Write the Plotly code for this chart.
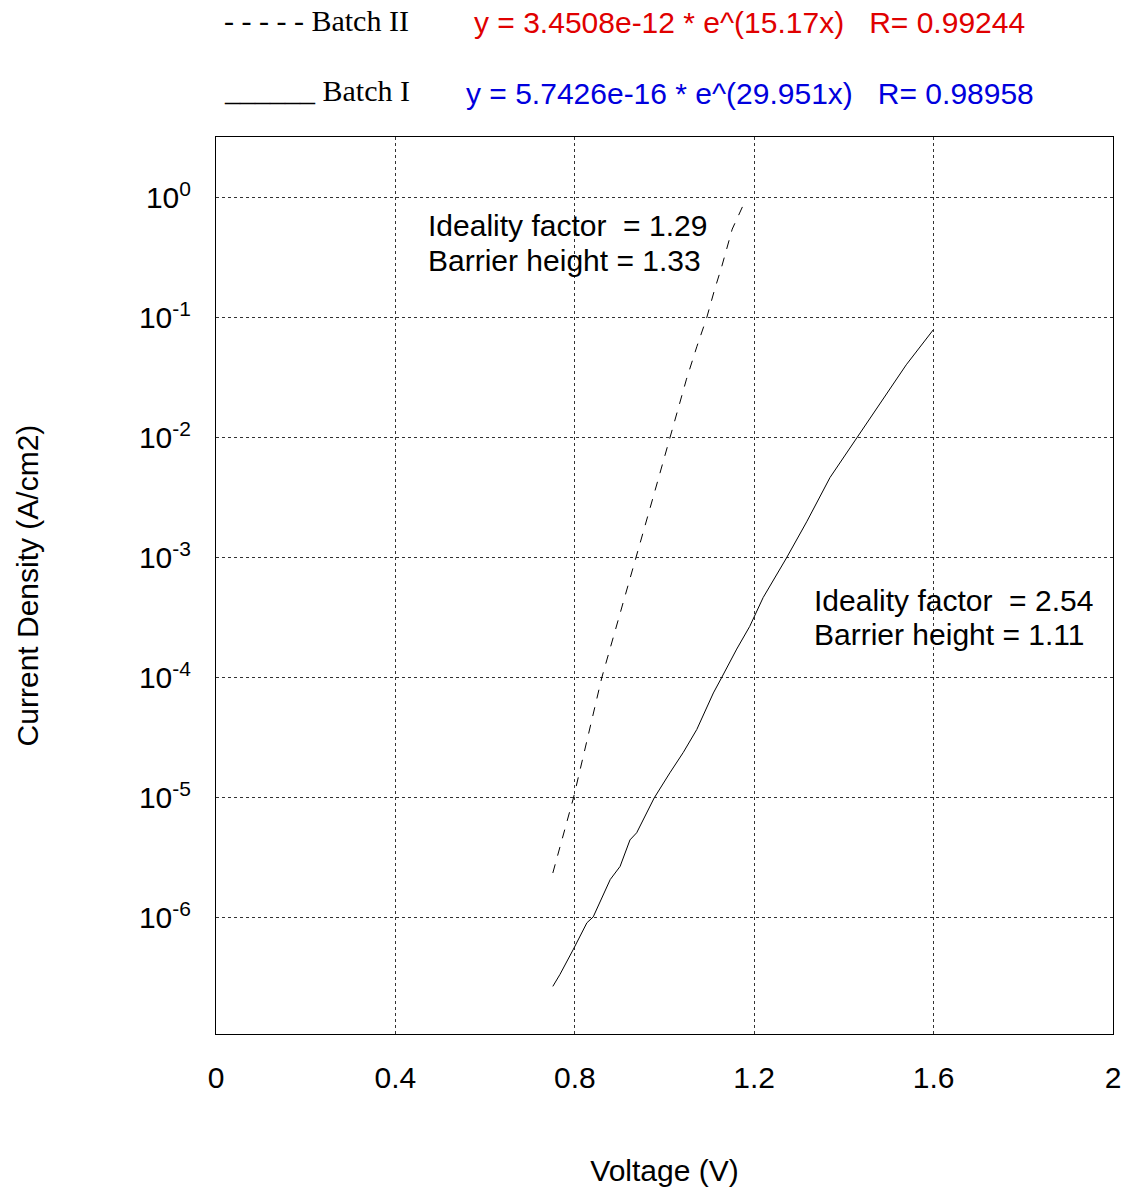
import plotly.graph_objects as go

# ---- data ----
batch1_v = [0.751, 0.767, 0.797, 0.827, 0.841, 0.879, 0.901, 0.923, 0.938, 0.977,
            1.012, 1.042, 1.072, 1.109, 1.127, 1.161, 1.190, 1.220, 1.272, 1.317,
            1.369, 1.428, 1.480, 1.539, 1.599]
batch1_j = [2.69e-7, 3.39e-7, 5.50e-7, 9.12e-7, 1.02e-6, 2.09e-6, 2.69e-6, 4.47e-6, 5.13e-6, 1.0e-5,
            1.62e-5, 2.40e-5, 3.72e-5, 7.50e-5, 1.0e-4, 1.74e-4, 2.69e-4, 4.68e-4, 1.0e-3, 2.0e-3,
            4.68e-3, 1.0e-2, 1.95e-2, 4.07e-2, 7.94e-2]

batch2_v = [0.751, 0.797, 0.860, 0.893, 0.937, 0.975, 1.012, 1.049, 1.072, 1.094,
            1.112, 1.127, 1.151, 1.176]
batch2_j = [2.37e-6, 1.0e-5, 1.0e-4, 2.69e-4, 1.0e-3, 3.24e-3, 1.0e-2, 3.09e-2, 5.75e-2, 0.1,
            0.174, 0.263, 0.550, 0.879]

x_ticks = [0, 0.4, 0.8, 1.2, 1.6, 2]
x_tick_labels = ["0", "0.4", "0.8", "1.2", "1.6", "2"]
y_ticks = [1e-6, 1e-5, 1e-4, 1e-3, 1e-2, 1e-1, 1]
y_tick_labels = ["10<sup>-6</sup>", "10<sup>-5</sup>", "10<sup>-4</sup>", "10<sup>-3</sup>",
                 "10<sup>-2</sup>", "10<sup>-1</sup>", "10<sup>0</sup>"]

NB = "\u00a0"
fit2_text = "y = 3.4508e-12 * e^(15.17x)" + NB * 3 + "R= 0.99244"
fit1_text = "y = 5.7426e-16 * e^(29.951x)" + NB * 3 + "R= 0.98958"
legend2_text = "- - - - - Batch II"
legend1_text = "______ Batch I"
ann2_lines = ["Ideality factor" + NB * 2 + "= 1.29", "Barrier height = 1.33"]
ann1_lines = ["Ideality factor" + NB * 2 + "= 2.54", "Barrier height = 1.11"]

# ---- layout geometry ----
W, H = 1127, 1190
L, R, T, B = 216, 14, 137, 156
PW, PH = W - L - R, H - T - B

def px(xp):
    return (xp - L) / PW

def py(yp):
    return (H - B - yp) / PH

SANS = "Liberation Sans, Arial, Helvetica, sans-serif"
SERIF = "Liberation Serif, Times New Roman, serif"
FS = 30

fig = go.Figure()
fig.add_trace(go.Scatter(x=batch2_v, y=batch2_j, mode="lines", name="Batch II",
                         line=dict(color="black", width=1, dash="9px,9px")))
fig.add_trace(go.Scatter(x=batch1_v, y=batch1_j, mode="lines", name="Batch I",
                         line=dict(color="black", width=1)))

grid = dict(showgrid=True, gridcolor="#333", gridwidth=1, griddash="3px,3px",
            showline=True, linecolor="black", linewidth=1, mirror=True,
            zeroline=False, ticks="", tickfont=dict(family=SANS, size=FS, color="black"))

fig.update_xaxes(range=[0, 2], tickvals=x_ticks, ticktext=x_tick_labels,
                 ticklabelstandoff=17,
                 title=dict(text="Voltage (V)", font=dict(family=SANS, size=FS, color="black"),
                            standoff=66),
                 **grid)
fig.update_yaxes(type="log", range=[-6.967, 0.508], tickvals=y_ticks, ticktext=y_tick_labels,
                 ticklabelstandoff=18,
                 title=dict(text="Current Density (A/cm2)",
                            font=dict(family=SANS, size=FS, color="black"), standoff=91),
                 **grid)

annotations = []
def add_text(text, x_left, y_mid, color="black", family=SANS):
    annotations.append(dict(text=text, x=px(x_left), y=py(y_mid), xref="paper", yref="paper",
                            xanchor="left", yanchor="middle", showarrow=False,
                            font=dict(family=family, size=FS, color=color)))

add_text(legend2_text, 222, 20, family=SERIF)
add_text(legend1_text, 222, 90, family=SERIF)
add_text(fit2_text, 472, 22, color="#e00000")
add_text(fit1_text, 464, 93, color="#0000dd")
add_text(ann2_lines[0], 426, 226)
add_text(ann2_lines[1], 426, 260)
add_text(ann1_lines[0], 812, 600)
add_text(ann1_lines[1], 812, 634)

fig.update_layout(width=W, height=H, margin=dict(l=L, r=R, t=T, b=B, autoexpand=False),
                  paper_bgcolor="white", plot_bgcolor="white", showlegend=False,
                  font=dict(family=SANS, size=FS, color="black"),
                  annotations=annotations)

fig.write_html("out.html")
